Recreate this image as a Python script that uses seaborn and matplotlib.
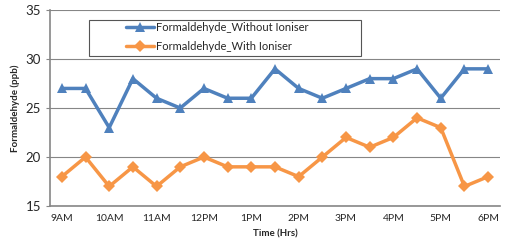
import numpy as np
import pandas as pd
import matplotlib
matplotlib.use("Agg")
import matplotlib.pyplot as plt
from matplotlib.patches import Rectangle
import seaborn as sns

# half-hourly readings 9AM - 6PM
times = ["9AM", "9:30AM", "10AM", "10:30AM", "11AM", "11:30AM", "12PM", "12:30PM",
         "1PM", "1:30PM", "2PM", "2:30PM", "3PM", "3:30PM", "4PM", "4:30PM",
         "5PM", "5:30PM", "6PM"]
without_ioniser = [27, 27, 23, 28, 26, 25, 27, 26, 26, 29, 27, 26, 27, 28, 28, 29, 26, 29, 29]
with_ioniser = [18, 20, 17, 19, 17, 19, 20, 19, 19, 19, 18, 20, 22, 21, 22, 24, 23, 17, 18]
tick_labels = ["9AM", "10AM", "11AM", "12PM", "1PM", "2PM", "3PM", "4PM", "5PM", "6PM"]

series_names = ["Formaldehyde_Without Ioniser", "Formaldehyde_With Ioniser"]
df = pd.DataFrame({
    "idx": list(range(len(times))) * 2,
    "ppb": without_ioniser + with_ioniser,
    "series": [series_names[0]] * len(times) + [series_names[1]] * len(times),
})

sns.set_style("white")
plt.rcParams["font.family"] = ["Lato", "DejaVu Sans"]

fig = plt.figure(figsize=(5.05, 2.45), dpi=100)
ax = fig.add_axes([0.099, 0.159, 0.891, 0.8])

sns.lineplot(data=df, x="idx", y="ppb", hue="series", style="series",
             palette=["#4F81BD", "#F79646"], markers=["^", "D"], dashes=False,
             linewidth=2.5, markersize=6.5, markeredgewidth=0, ax=ax)

ax.set_xlim(-0.5, len(times) - 0.5)
ax.set_ylim(15, 35)
ax.set_yticks([15, 20, 25, 30, 35])
ax.set_xticks(range(0, len(times), 2))
ax.set_xticklabels(tick_labels, fontsize=7.5)
ax.set_xticks(np.arange(-0.5, len(times), 1), minor=True)
ax.tick_params(axis="x", which="major", length=0, pad=6)
ax.tick_params(axis="x", which="minor", length=3, color="#868686", width=1)
ax.tick_params(axis="y", length=3, color="#868686", labelsize=9.5, direction="out", left=True)
ax.grid(axis="y", color="#868686", linewidth=0.8)
ax.set_axisbelow(True)
for side in ["top", "right"]:
    ax.spines[side].set_visible(False)
for side in ["left", "bottom"]:
    ax.spines[side].set_color("#868686")
    ax.spines[side].set_linewidth(1.2)

ax.set_xlabel("Time (Hrs)", fontsize=7, fontweight="bold")
ax.set_ylabel("Formaldehyde (ppb)", fontsize=7, fontweight="bold")

# Excel-style legend box, wider than its content
ax.add_patch(Rectangle((0.087, 0.765), 0.604, 0.184, transform=ax.transAxes,
                       facecolor="white", edgecolor="#555555", linewidth=0.8, zorder=5))
leg = ax.legend(loc="upper left", bbox_to_anchor=(0.163, 0.955), fontsize=8,
                frameon=False, handlelength=2.5, borderpad=0.25, borderaxespad=0,
                labelspacing=0.75, handletextpad=0.2)
leg.set_zorder(6)

fig.savefig("out.png", dpi=100)
